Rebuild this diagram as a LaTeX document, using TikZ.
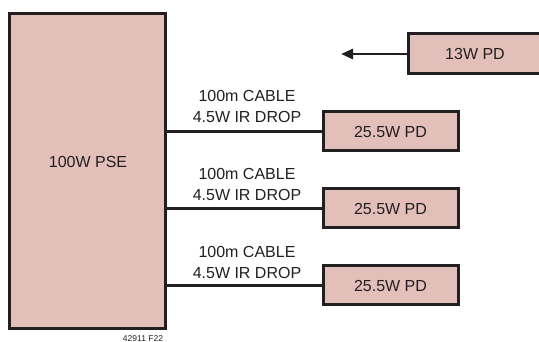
\documentclass[tikz,border=0pt]{standalone}
\usepackage{fontspec}
\setmainfont{Liberation Sans}
\usepackage{tikz}
\usetikzlibrary{arrows.meta,positioning}
\definecolor{poe-fill}{RGB}{227,191,185}
\definecolor{poe-ink}{RGB}{35,31,32}
\tikzset{
  poe-box/.style={draw=poe-ink, fill=poe-fill, line width=3pt, inner sep=0pt,
    font=\fontsize{16}{21}\selectfont, text=poe-ink},
  poe-cable/.style={draw=poe-ink, line width=2.8pt},
  poe-note/.style={font=\fontsize{16}{21}\selectfont, text=poe-ink, align=center, inner sep=0pt}
}

\begin{document}
\begin{tikzpicture}[x=1pt, y=-1pt]
  \useasboundingbox (0,0) rectangle (539,342);

  % Power sourcing equipment
  \node[poe-box, minimum width=156pt, minimum height=315pt] (pse) at (87.5,171) {};
  \node[poe-note] (pse-name) at (88,162) {100W PSE};

  % Powered devices on the cables
  \node[poe-box, minimum width=135pt, minimum height=39pt] (pd1) at (390.5,131.5) {25.5W PD};
  \node[poe-box, minimum width=135pt, minimum height=39pt] (pd2) at (390.5,208.5) {25.5W PD};
  \node[poe-box, minimum width=135pt, minimum height=39pt] (pd3) at (390.5,285.5) {25.5W PD};

  % Cables
  \draw[poe-cable] (pd1.west) -- (pd1.west -| pse.east);
  \draw[poe-cable] (pd2.west) -- (pd2.west -| pse.east);
  \draw[poe-cable] (pd3.west) -- (pd3.west -| pse.east);

  \node[poe-note, anchor=base] (cable1) at (247,123) {100m CABLE\\4.5W IR DROP};
  \node[poe-note, anchor=base] (cable2) at (247,201) {100m CABLE\\4.5W IR DROP};
  \node[poe-note, anchor=base] (cable3) at (247,279) {100m CABLE\\4.5W IR DROP};

  % Extra device, not connected
  \node[poe-box, minimum width=134pt, minimum height=40pt] (pd13) at (475,54) {13W PD};
  \coordinate (pd13-tip) at (341,54);
  \draw[poe-cable, -{Triangle[length=12pt, width=10pt]}] (pd13.west) -- (pd13-tip);

  \node[font=\fontsize{8.5}{10}\selectfont, text=poe-ink, inner sep=0pt, anchor=base] (fig-id) at (143,341.5) {42911 F22};
\end{tikzpicture}
\end{document}
